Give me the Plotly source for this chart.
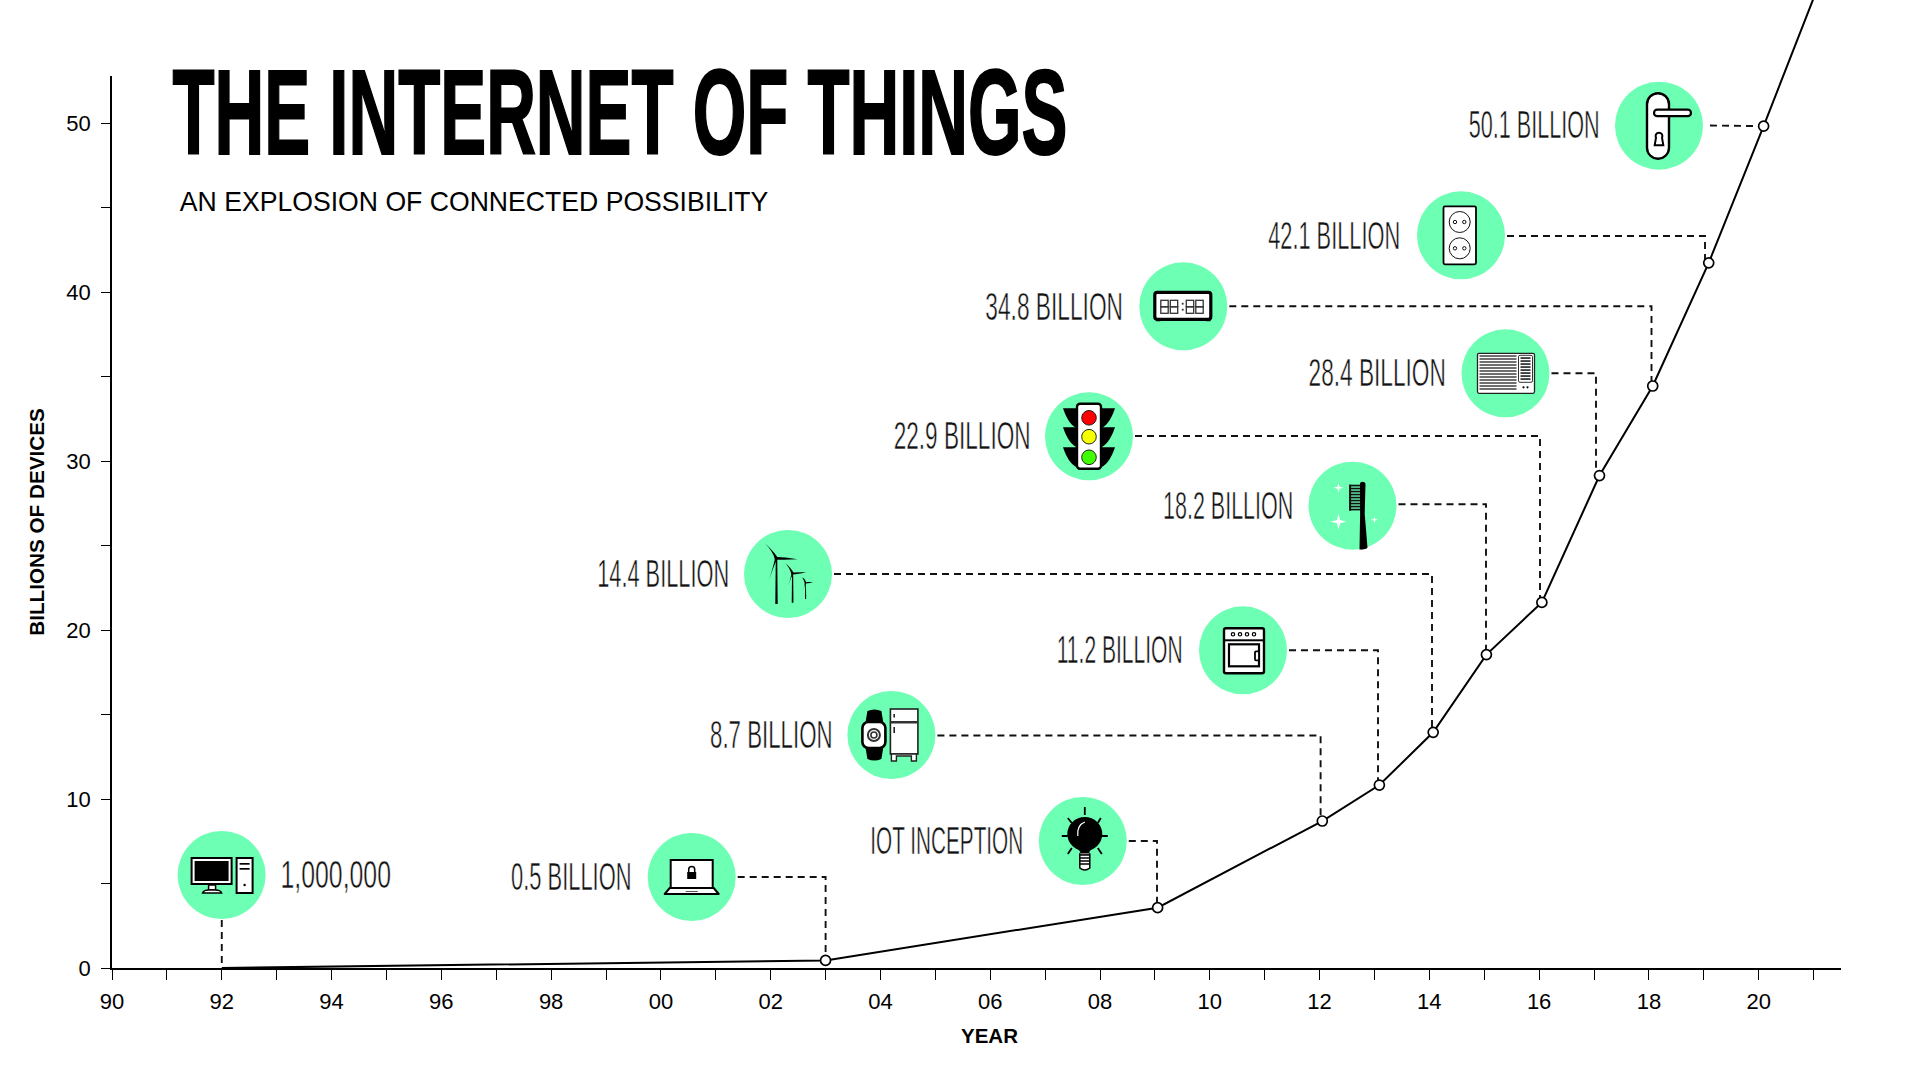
import base64
import json
import plotly.graph_objects as go

# ---------- data ----------
years = [1992, 2003, 2009.05, 2012.05, 2013.09, 2014.07, 2015.04, 2016.05, 2017.1, 2018.07, 2019.09, 2020.09, 2021.0]
devices = [0.001, 0.45, 3.57, 8.7, 10.83, 13.95, 18.55, 21.64, 29.15, 34.45, 41.74, 49.83, 57.4]
milestone_labels = ["1,000,000", "0.5 BILLION", "IOT INCEPTION", "8.7 BILLION", "11.2 BILLION", "14.4 BILLION",
                    "18.2 BILLION", "22.9 BILLION", "28.4 BILLION", "34.8 BILLION", "42.1 BILLION", "50.1 BILLION"]
x_tick_years = list(range(1990, 2022))
x_tick_text = ["90", "", "92", "", "94", "", "96", "", "98", "", "00", "", "02", "", "04", "", "06", "", "08", "",
               "10", "", "12", "", "14", "", "16", "", "18", "", "20", ""]
y_tick_vals = [0, 5, 10, 15, 20, 25, 30, 35, 40, 45, 50]
y_tick_text = ["0", "", "10", "", "20", "", "30", "", "40", "", "50"]

# ---------- layout geometry (page pixels) ----------
W, H = 1921, 1079
L, R, T, B = 112, 1841, 76, 968
X_RANGE = [1990, 2021.5]
Y_RANGE = [0, 52.8]
PAGE_TOP_VALUE = B / ((B - T) / Y_RANGE[1])
def dx(px): return X_RANGE[0] + (px - L) / (R - L) * (X_RANGE[1] - X_RANGE[0])
def dy(py): return Y_RANGE[0] + (B - py) / (B - T) * (Y_RANGE[1] - Y_RANGE[0])
def px_x(px): return (px - L) / (R - L)
def px_y(py): return (B - py) / B

badge_centres = [(221.6, 875), (691.7, 877), (1082.8, 841), (891.4, 735), (1243, 650.3), (788, 574),
                 (1352.5, 505.7), (1089, 436.3), (1505.5, 373.3), (1183.3, 306.3), (1461, 235.3), (1659, 125.7)]
leader_levels = [None, 877, 841, 735.5, 650.3, 574, 504.3, 436, 373.3, 306.3, 236, 125.5]
leader_columns = [None, 825.6, 1157, 1320.6, 1378, 1432, 1486, 1540, 1596, 1651.5, 1705, None]
label_spans = [(281, 391.5, 874), (511, 631.5, 876), (870, 1023, 840), (710.5, 833, 734), (1056, 1182, 650),
               (597, 729, 573), (1162.6, 1292.8, 505), (893, 1030, 435.7), (1308.5, 1445.8, 372.7),
               (985, 1122.7, 306), (1268, 1400, 236), (1468, 1599, 125)]
CIRCLE_D = 88
MINT = "#6DFFB3"
INK = "#000000"

# ---------- icons, drawn on an 88x88 canvas around the badge centre ----------
def star(cx, cy, r):
    k = r * 0.2
    return (f'<path fill="#fff" d="M{cx} {cy-r}L{cx+k} {cy-k}L{cx+r} {cy}L{cx+k} {cy+k}L{cx} {cy+r}'
            f'L{cx-k} {cy+k}L{cx-r} {cy}L{cx-k} {cy-k}Z"/>')

def turbine(hx, hy, base, up, right, dl, w):
    return (f'<path d="M{hx-w/2} {hy}L{hx+w/2} {hy}L{hx+w*.8} {base}L{hx-w*.8} {base}Z"/>'
            f'<path d="M{up[0]} {up[1]}Q{hx-1} {hy-5} {hx+w} {hy}L{hx-w} {hy+w}Q{hx-3} {hy-6} {up[0]} {up[1]}Z"/>'
            f'<path d="M{right[0]} {right[1]}Q{hx+5} {hy+w} {hx} {hy+w}L{hx} {hy-w*.8}Q{hx+5} {hy-w} {right[0]} {right[1]}Z"/>'
            f'<path d="M{dl[0]} {dl[1]}Q{hx-w} {hy+3} {hx-w} {hy-w}L{hx+w*.8} {hy}Q{hx-1} {hy+3} {dl[0]} {dl[1]}Z"/>')

def seven_seg(x):
    return (f'<rect x="{x}" y="38" width="7.4" height="6.5" fill="none" stroke="#333" stroke-width="1.3"/>'
            f'<rect x="{x}" y="44.5" width="7.4" height="6.5" fill="none" stroke="#333" stroke-width="1.3"/>')

ac_lines = "".join(f'<rect x="18" y="{y}" width="37" height="1.4" fill="#333"/>' for y in range(26, 61, 3))
ac_vents = "".join(f'<rect x="59" y="{y}" width="10" height="1.5" fill="#111"/>' for y in range(28, 50, 3))
brush_lines = "".join(f'<rect x="41" y="{y}" width="12" height="1.7" fill="#111"/>' for y in range(23, 48, 3))
bulb_rays = "".join(f'<line x1="{a}" y1="{b}" x2="{c}" y2="{d}"/>' for a, b, c, d in
                    [(46, 10, 46, 18), (29, 21, 33, 26), (62, 21, 59, 26), (23, 39, 29, 39),
                     (62, 39, 69, 39), (29, 57, 33, 51), (63, 57, 59, 51)])
lights = [("#ff0000", 25.5), ("#f6ff00", 44.4), ("#3dff00", 65)]
traffic_wings = "".join(f'<path d="M18 {y-9}H34V{y+12}Q24 {y+9} 18 {y-9}Z"/><path d="M70 {y-9}H54V{y+12}Q64 {y+9} 70 {y-9}Z"/>'
                        for y in (25, 44, 64))
traffic_lamps = "".join(f'<circle cx="44" cy="{y}" r="7.3" fill="{c}" stroke="#222" stroke-width="1"/>' for c, y in lights)
socket = lambda cy: (f'<circle cx="42.7" cy="{cy}" r="10.5" fill="#fff" stroke="#111" stroke-width="1"/>'
                     f'<circle cx="38" cy="{cy}" r="1.7" fill="#fff" stroke="#111"/><circle cx="47.3" cy="{cy}" r="1.7" fill="#fff" stroke="#111"/>')

icons = [
    # desktop
    '<rect x="14" y="27" width="40" height="26" fill="#fff" stroke="#000" stroke-width="2"/><rect x="17" y="30" width="34" height="20" fill="#000"/>'
    '<path d="M31 54h7v5h-7z" fill="#fff" stroke="#000" stroke-width="1.5"/><path d="M25 62q1-3 6-3h7q5 0 6 3z" fill="#fff" stroke="#000" stroke-width="1.5"/>'
    '<rect x="59" y="27" width="16" height="35" fill="#fff" stroke="#000" stroke-width="2"/><rect x="62" y="32" width="10" height="1.7"/><rect x="62" y="37" width="10" height="1.7"/><circle cx="67" cy="54" r="1.2"/>',
    # laptop
    '<rect x="23" y="27" width="42" height="28" fill="#fff" stroke="#000" stroke-width="2"/><rect x="39.5" y="39" width="9" height="7"/>'
    '<path d="M41 39v-2.5a3 3 0 0 1 6 0v2.5" fill="none" stroke="#000" stroke-width="1.5"/>'
    '<path d="M17 61l5-6h44l5 6z" fill="#fff" stroke="#000" stroke-width="2" stroke-linejoin="round"/><rect x="38" y="58" width="12" height="1" fill="#555"/>',
    # bulb
    f'<g stroke="#000" stroke-width="1.8" fill="none">{bulb_rays}</g><ellipse cx="46" cy="37" rx="17.5" ry="17"/>'
    '<path d="M39 51L53 51L50 56L42 56Z"/><path d="M41 56h10v2h-10z" fill="#fff" stroke="#000"/>'
    '<path d="M41 58h10v13q-5 4-10 0z" fill="#fff" stroke="#000" stroke-width="1.5"/><path d="M41 61h10M41 64h10M41 67h10" stroke="#000" stroke-width="1.4"/>'
    '<path d="M39 39q-1-11 7-14" fill="none" stroke="#fff" stroke-width="1.2"/>',
    # watch + fridge
    '<path d="M20 20q7-3 14 0l2 12h-18zM18 56h18l-2 12q-7 3-14 0z"/><rect x="15" y="31" width="23" height="26" rx="6" fill="#fff" stroke="#000" stroke-width="2.6"/>'
    '<circle cx="26.5" cy="44" r="6" fill="none" stroke="#333" stroke-width="2"/><circle cx="26.5" cy="44" r="3" fill="none" stroke="#333" stroke-width="1.6"/>'
    '<rect x="43" y="18" width="27.5" height="45" fill="#fff" stroke="#222" stroke-width="1.6"/><rect x="43" y="30" width="27.5" height="2.5" fill="#333"/>'
    '<rect x="46" y="23" width="1.6" height="3.5" fill="#222"/><rect x="46" y="36" width="1.6" height="6" fill="#222"/>'
    '<path d="M44 63v7h5v-5h15v5h5v-7z" fill="#fff" stroke="#222" stroke-width="1.4"/>',
    # oven
    '<rect x="25" y="22" width="40" height="45" rx="2" fill="#fff" stroke="#000" stroke-width="2.4"/><rect x="25" y="33" width="40" height="2" fill="#000"/>'
    '<g fill="none" stroke="#000" stroke-width="1.2"><circle cx="34" cy="28" r="1.7"/><circle cx="41" cy="28" r="1.7"/><circle cx="48" cy="28" r="1.7"/><circle cx="55" cy="28" r="1.7"/></g>'
    '<rect x="30" y="38" width="30" height="22" fill="#fff" stroke="#000" stroke-width="2.2"/><rect x="56" y="45" width="4" height="9" rx="1" fill="#fff" stroke="#000" stroke-width="1.8"/>',
    # wind turbines
    turbine(32.5, 28.3, 74, (21, 13.3), (53.6, 29.3), (25, 50), 1.5) +
    turbine(48.6, 43.3, 72.7, (41, 33), (62, 42.3), (44, 55.7), 1.1) +
    turbine(61.6, 52.7, 69, (57.4, 47.3), (69, 52.3), (58.6, 60), .7),
    # toothbrush
    star(30, 26, 5) + star(30, 60, 8) + star(66, 58, 3.5) +
    f'{brush_lines}<rect x="40.6" y="23" width="2" height="26" fill="#111"/>'
    '<path d="M51.5 22q0-2 2.5-2t3 2l-.8 30 2.8 34q-2.5 2-8 2l.6-36z"/>',
    # traffic light
    f'{traffic_wings}<rect x="32" y="11.5" width="24" height="65" rx="3" fill="#fff" stroke="#000" stroke-width="2.4"/>{traffic_lamps}',
    # air conditioner
    f'<rect x="16" y="24" width="57" height="40" rx="1.5" fill="#fff" stroke="#222" stroke-width="1.3"/>{ac_lines}'
    f'<rect x="57" y="26" width="14" height="27" rx="1.5" fill="#fff" stroke="#333" stroke-width="1"/>{ac_vents}'
    '<circle cx="62" cy="58" r="1.1"/><circle cx="66" cy="58" r="1.1"/>',
    # clock
    '<rect x="15.5" y="30" width="56" height="27" rx="2.5" fill="#fff" stroke="#000" stroke-width="3.2"/><path d="M16 57h6l-1 2h-4zM66 57h6l-1 2h-4z"/>'
    + seven_seg(21.5) + seven_seg(31) + seven_seg(47) + seven_seg(56.5) + '<rect x="42.5" y="40.5" width="1.8" height="1.8" fill="#333"/><rect x="42.5" y="46.5" width="1.8" height="1.8" fill="#333"/>',
    # double socket
    f'<rect x="26.5" y="15" width="32.5" height="58" rx="1.5" fill="#fff" stroke="#000" stroke-width="1.8"/>{socket(30.7)}{socket(57)}',
    # door handle
    '<rect x="32" y="11.5" width="22" height="65.5" rx="11" fill="#fff" stroke="#000" stroke-width="2.4"/>'
    '<rect x="39" y="28" width="37" height="6.5" rx="3.2" fill="#fff" stroke="#000" stroke-width="2.2"/>'
    '<path d="M41 56a3.4 3.4 0 1 1 6 0l1.3 7.5h-8.6z" fill="#fff" stroke="#000" stroke-width="2"/>',
]
def svg_uri(body):
    svg = f'<svg xmlns="http://www.w3.org/2000/svg" width="88" height="88" viewBox="0 0 88 88">{body}</svg>'
    return "data:image/svg+xml;base64," + base64.b64encode(svg.encode()).decode()

# ---------- leader lines: from badge edge to the point on the curve ----------
leader_ink = dict(color="#111", width=1.9, dash="7px,5px")
fig = go.Figure()
for i, (cx, cy) in enumerate(badge_centres):
    if i == 0:
        xs, ys = [years[0], years[0]], [dy(cy + CIRCLE_D / 2 + 1), devices[0]]
    elif i == 11:
        xs, ys = [dx(cx + CIRCLE_D / 2 + 7), years[i]], [dy(leader_levels[i]), devices[i]]
    else:
        col = dx(leader_columns[i])
        xs = [dx(cx + CIRCLE_D / 2 + 2), col, col]
        ys = [dy(leader_levels[i]), dy(leader_levels[i]), devices[i]]
    fig.add_trace(go.Scatter(x=xs, y=ys, mode="lines", line=leader_ink, cliponaxis=False, hoverinfo="skip", showlegend=False))

fig.add_trace(go.Scatter(x=[dx(c[0]) for c in badge_centres], y=[dy(c[1]) for c in badge_centres], mode="markers",
                         cliponaxis=False, showlegend=False, hoverinfo="skip",
                         marker=dict(size=CIRCLE_D, color=MINT, line=dict(width=0))))
# the curve runs past the top of the axis up to the page edge, so it lives on a taller hidden y axis
fig.add_trace(go.Scatter(x=years, y=devices, mode="lines", yaxis="y2", line=dict(color=INK, width=2),
                         showlegend=False, name="Billions of devices"))
fig.add_trace(go.Scatter(x=years[1:-1], y=devices[1:-1], mode="markers", yaxis="y2", cliponaxis=False, showlegend=False,
                         marker=dict(size=10, color="white", line=dict(color=INK, width=1.7))))

TEXT_FONT = "Liberation Sans"
annotations = []
squeeze = {}
for text, (a, b, y) in zip(milestone_labels, label_spans):
    annotations.append(dict(text=text, x=px_x((a + b) / 2), y=px_y(y), xref="paper", yref="paper", xanchor="center",
                            yanchor="middle", showarrow=False, font=dict(family=TEXT_FONT, size=39, color="#111")))
    squeeze[text] = b - a
TITLE = "THE INTERNET OF THINGS"
annotations.append(dict(text=TITLE, x=px_x((171 + 1068) / 2), y=px_y(112), xref="paper", yref="paper", xanchor="center",
                        yanchor="middle", showarrow=False, font=dict(family=TEXT_FONT, size=120, color="#000", weight=700)))
squeeze[TITLE] = 895
SUB = "AN EXPLOSION OF CONNECTED POSSIBILITY"
annotations.append(dict(text=SUB, x=px_x((179 + 768) / 2), y=px_y(201.5), xref="paper", yref="paper", xanchor="center",
                        yanchor="middle", showarrow=False, font=dict(family=TEXT_FONT, size=27.5, color="#000")))
squeeze[SUB] = 589
annotations.append(dict(text="YEAR", x=px_x(990), y=px_y(1035), xref="paper", yref="paper", xanchor="center",
                        yanchor="middle", showarrow=False, font=dict(family=TEXT_FONT, size=20.5, color="#000", weight=700)))

images = [dict(source=svg_uri(body), x=px_x(c[0]), y=px_y(c[1]), xref="paper", yref="paper",
               sizex=88 / (R - L), sizey=88 / B, xanchor="center", yanchor="middle",
               sizing="stretch", layer="above") for body, c in zip(icons, badge_centres)]

fig.update_layout(
    width=W, height=H, margin=dict(l=L, r=W - R, t=0, b=H - B, pad=0, autoexpand=False),
    paper_bgcolor="white", plot_bgcolor="rgba(0,0,0,0)", showlegend=False, annotations=annotations, images=images,
    font=dict(family=TEXT_FONT, color="#000"),
    xaxis=dict(range=X_RANGE, tickmode="array", tickvals=x_tick_years, ticktext=x_tick_text, ticks="outside", ticklen=10,
               tickwidth=1.3, tickcolor="#000", showline=True, linecolor="#000", linewidth=2, showgrid=False, zeroline=False,
               tickfont=dict(size=22, color="#000"), ticklabelstandoff=3),
    yaxis=dict(range=Y_RANGE, domain=[0, (B - T) / B], tickmode="array", tickvals=y_tick_vals, ticktext=y_tick_text,
               ticks="outside", ticklen=9, tickwidth=1.3, tickcolor="#000", showline=True, linecolor="#000", linewidth=1.5,
               showgrid=False, zeroline=False, tickfont=dict(size=22, color="#000"), ticklabelstandoff=6,
               title=dict(text="BILLIONS OF DEVICES", font=dict(size=20.7, color="#000", weight=700), standoff=16)),
    yaxis2=dict(range=[0, PAGE_TOP_VALUE], domain=[0, 1], anchor="x", visible=False),
)

post = ("document.body.style.margin='0';document.documentElement.style.overflow='hidden';"
        "var w=" + json.dumps(squeeze) + ";"
        "var title=" + json.dumps(TITLE) + ",sub=" + json.dumps(SUB) + ";"
        "document.querySelectorAll('.annotation-text').forEach(function(t){var k=t.textContent;if(!w[k])return;"
        "var n=t.getComputedTextLength(),cx=parseFloat(t.getAttribute('x'))||0;"
        "t.setAttribute('transform','translate('+cx+' 0) scale('+(w[k]/n)+' 1) translate('+(-cx)+' 0)');"
        "if(k===title){t.style.stroke='#000';t.style.strokeWidth='2px';}"
        "else if(k!==sub){t.style.stroke='#fff';t.style.strokeWidth='0.55px';}"
        "var g=t.closest('.annotation-text-g');if(g){g.querySelectorAll('rect').forEach(function(r){"
        "var rw=parseFloat(r.getAttribute('width')),rx=parseFloat(r.getAttribute('x'))||0;"
        "r.setAttribute('x',rx+(rw-w[k])/2);r.setAttribute('width',w[k]);});}"
        "});")
fig.write_html("out.html", post_script=post, config=dict(displayModeBar=False))
